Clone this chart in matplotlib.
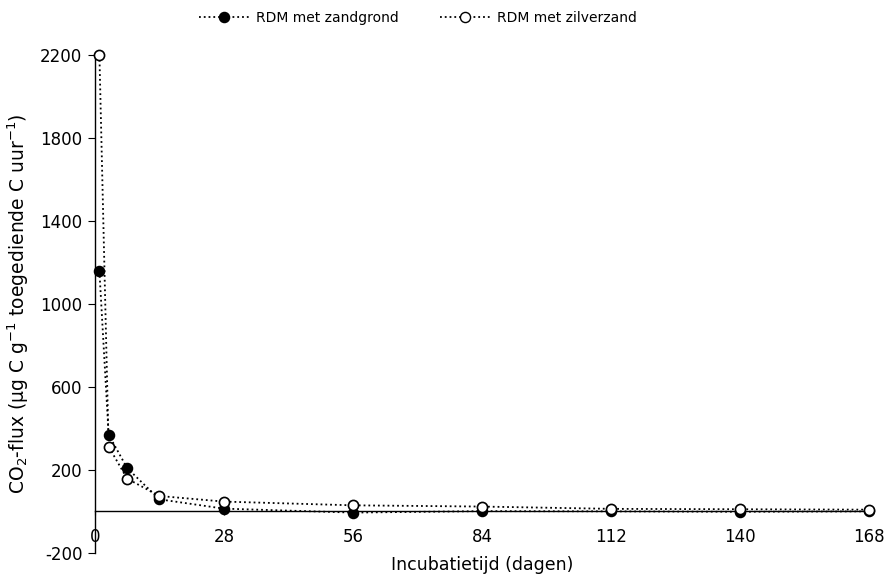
import matplotlib
matplotlib.use('Agg')
import numpy as np
import matplotlib.pyplot as plt
from matplotlib.lines import Line2D

# incubation days and CO2 flux readings
days = [1, 3, 7, 14, 28, 56, 84, 112, 140, 168]
zandgrond = [1158, 370, 209, 58, 13, -6, 1, 0, -2, 0]
zilverzand = [2200, 312, 158, 74, 47, 29, 23, 12, 10, 8]

xticks = [0, 28, 56, 84, 112, 140, 168]
yticks = [-200, 200, 600, 1000, 1400, 1800, 2200]

plt.rcParams['font.family'] = ['DejaVu Sans']
plt.rcParams['mathtext.fontset'] = 'dejavusans'
plt.rcParams['axes.unicode_minus'] = False

fig = plt.figure(figsize=(8.86, 5.85), dpi=100)
ax = fig.add_axes([0.107, 0.055, 0.874, 0.851])

ax.plot(days, zandgrond, linestyle=':', color='black', lw=1.3,
        marker='o', ms=7.3, mfc='black', mec='black', zorder=3, clip_on=False)
ax.plot(days, zilverzand, linestyle=':', color='black', lw=1.3,
        marker='o', ms=7.3, mfc='white', mec='black', mew=1.2, zorder=4,
        clip_on=False)

ax.set_xlim(0, 168)
ax.set_ylim(-200, 2200)
ax.set_xticks(xticks)
ax.set_yticks(yticks)

for s in ['top', 'right']:
    ax.spines[s].set_visible(False)
ax.spines['bottom'].set_position(('data', 0))
ax.spines['bottom'].set_linewidth(1.0)
ax.spines['left'].set_linewidth(1.0)

ax.tick_params(axis='x', direction='out', length=3, pad=9, labelsize=12)
ax.tick_params(axis='y', direction='out', length=5, pad=4, labelsize=12)

ax.set_xlabel('Incubatietijd (dagen)', fontsize=12.5)
ax.xaxis.set_label_coords(0.5, -0.006)
ax.set_ylabel(r'CO$_2$-flux (µg C g$^{-1}$ toegediende C uur$^{-1}$)', fontsize=13.5)
ax.yaxis.set_label_coords(-0.083, 0.5)

handles = [
    Line2D([], [], linestyle=':', color='black', lw=1.3, marker='o', ms=7.3,
           mfc='black', mec='black'),
    Line2D([], [], linestyle=':', color='black', lw=1.3, marker='o', ms=7.3,
           mfc='white', mec='black'),
]
fig.legend(handles, ['RDM met zandgrond', 'RDM met zilverzand'], loc='center',
           bbox_to_anchor=(0.472, 0.969), ncol=2, frameon=False, fontsize=10,
           handlelength=3.6, handletextpad=0.5, columnspacing=3.0)

fig.savefig('out.png', dpi=100)
